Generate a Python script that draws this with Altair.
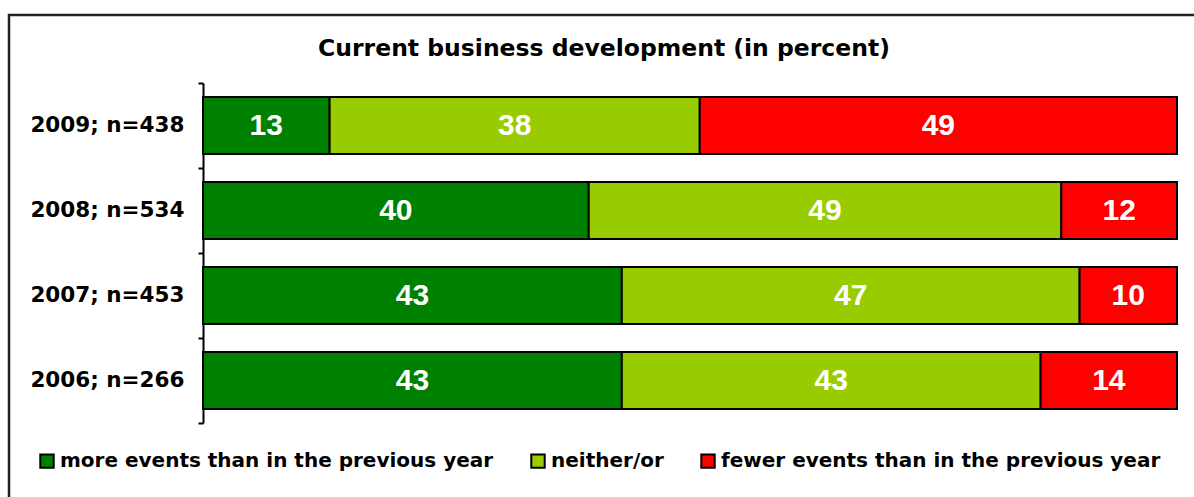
import altair as alt
import pandas as pd

years = ["2009; n=438", "2008; n=534", "2007; n=453", "2006; n=266"]
more_events = [13, 40, 43, 43]
neither_or = [38, 49, 47, 43]
fewer_events = [49, 12, 10, 14]
categories = [
    "more events than in the previous year",
    "neither/or",
    "fewer events than in the previous year",
]
colors = ["#008000", "#99CC00", "#FF0000"]
title_text = "Current business development (in percent)"

rows = []
for i, y in enumerate(years):
    for k, vals in enumerate([more_events, neither_or, fewer_events]):
        rows.append({"year": y, "category": categories[k], "order": k, "value": vals[i]})
df = pd.DataFrame(rows)

LABEL_FONT = "DejaVu Sans"

base = alt.Chart(df).transform_stack(
    stack="value",
    groupby=["year"],
    as_=["x0", "x1"],
    sort=[alt.SortField("order", order="ascending")],
    offset="normalize",
).transform_calculate(mid="(datum.x0 + datum.x1) / 2")

yscale = alt.Scale(paddingInner=0, paddingOuter=0)

yaxis = alt.Axis(
    tickBand="extent",
    domainColor="black",
    domainWidth=2,
    tickColor="black",
    tickWidth=2,
    tickSize=5,
    labelFont=LABEL_FONT,
    labelFontWeight="bold",
    labelFontSize=21.5,
    labelColor="black",
    labelPadding=14,
    grid=False,
)

xscale = alt.Scale(domain=[0, 1], nice=False, zero=False)

bars = base.mark_bar(
    stroke="black", strokeWidth=2, height=alt.RelativeBandSize(0.67)
).encode(
    x=alt.X("x0:Q", scale=xscale, axis=None),
    x2="x1:Q",
    y=alt.Y("year:N", sort=years, title=None, scale=yscale, axis=yaxis),
    color=alt.Color(
        "category:N",
        scale=alt.Scale(domain=categories, range=colors),
        legend=alt.Legend(
            title=None,
            orient="none",
            direction="horizontal",
            legendX=-166,
            legendY=368,
            symbolType="square",
            symbolSize=180,
            symbolStrokeColor="black",
            symbolStrokeWidth=2,
            symbolOpacity=1,
            labelFont=LABEL_FONT,
            labelFontWeight="bold",
            labelFontSize=20,
            labelColor="black",
            labelOffset=3,
            columnPadding=33,
            labelLimit=600,
        ),
    ),
)

labels = base.mark_text(
    color="white",
    font="Liberation Sans",
    fontWeight="bold",
    fontSize=30,
    baseline="middle",
    align="center",
).encode(
    x=alt.X("mid:Q", scale=xscale, axis=None),
    y=alt.Y("year:N", sort=years, title=None, scale=yscale, axis=yaxis),
    text=alt.Text("value:Q"),
)

frame = alt.Chart(pd.DataFrame({"f": [0]})).mark_rect(
    fill="transparent", stroke="#222222", strokeWidth=2.5
).encode(
    x=alt.value(-194), x2=alt.value(1010), y=alt.value(-68), y2=alt.value(440)
)

title = alt.Chart(pd.DataFrame({"t": [title_text]})).mark_text(
    font=LABEL_FONT,
    fontWeight="bold",
    fontSize=23.5,
    color="black",
    align="center",
    baseline="alphabetic",
).encode(x=alt.value(401), y=alt.value(-27), text="t:N")

chart = alt.layer(frame, bars, labels, title).properties(
    width=974,
    height=340,
    autosize=alt.AutoSizeParams(type="none"),
    padding={"left": 203, "top": 83, "right": 17, "bottom": 74},
    view=alt.ViewBackground(stroke="transparent", strokeOpacity=0),
).configure_view(stroke="transparent", strokeOpacity=0, strokeWidth=0).configure_axis(
    grid=False
).configure(background="white")

chart.save("out.html", embed_options={"renderer": "svg", "actions": False})
